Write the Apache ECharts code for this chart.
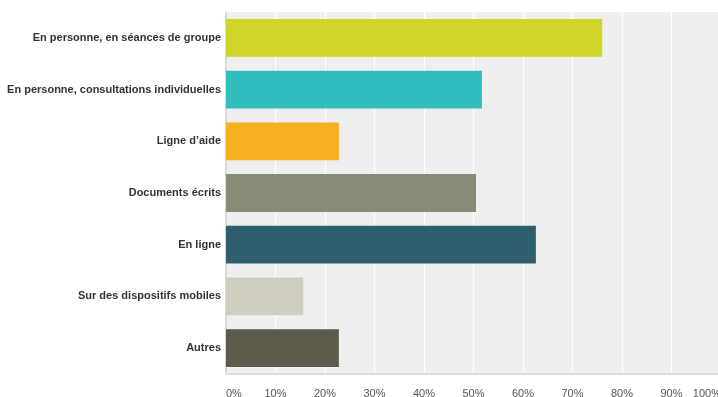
<!DOCTYPE html>
<html>
<head>
<meta charset="utf-8">
<script src="https://cdn.jsdelivr.net/npm/echarts@6/dist/echarts.min.js"></script>
<style>
  html, body { margin: 0; padding: 0; background: #fff; }
  #chart { width: 718px; height: 397px; }
</style>
</head>
<body>
<div id="chart"></div>
<script>
// Response categories, top to bottom
const categories = [
  'En personne, en séances de groupe',
  'En personne, consultations individuelles',
  'Ligne d\u2019aide',
  'Documents écrits',
  'En ligne',
  'Sur des dispositifs mobiles',
  'Autres'
];
// Share of respondents (%)
const values = [76.0, 51.7, 22.8, 50.5, 62.6, 15.6, 22.8];
const barColors = ['#d0d52a', '#33bdbf', '#f7b01f', '#8a8a79', '#2f5f6d', '#cfcdc0', '#5d5b4b'];
const xTicks = [0, 10, 20, 30, 40, 50, 60, 70, 80, 90, 100];

const chart = echarts.init(document.getElementById('chart'), null, { renderer: 'canvas' });
chart.setOption({
  animation: false,
  grid: {
    left: 226, top: 12, width: 495, height: 362,
    show: true, backgroundColor: '#efefef', borderWidth: 0,
    outerBoundsMode: 'none',
    containLabel: false
  },
  xAxis: {
    type: 'value',
    min: xTicks[0], max: xTicks[xTicks.length - 1], interval: 10,
    axisLine: { show: false },
    axisTick: { show: false },
    splitLine: { show: true, lineStyle: { color: '#ffffff', width: 1.2 } },
    axisLabel: {
      formatter: '{value}%',
      color: '#555555',
      fontFamily: 'Liberation Sans, Arial, sans-serif',
      fontSize: 11,
      margin: 14,
      alignMinLabel: 'left',
      alignMaxLabel: 'right'
    }
  },
  yAxis: {
    type: 'category',
    data: categories,
    inverse: true,
    axisLine: { show: true, lineStyle: { color: '#cccccc', width: 1.5 } },
    axisTick: { show: false },
    axisLabel: {
      color: '#333333',
      fontWeight: 'bold',
      fontFamily: 'Liberation Sans, Arial, sans-serif',
      fontSize: 11,
      margin: 5
    }
  },
  series: [
    {
      type: 'bar',
      data: values.map((v, i) => ({ value: v, itemStyle: { color: barColors[i] } })),
      barCategoryGap: '27%',
      silent: true
    },
    {
      // bottom baseline of the plot
      type: 'line',
      data: [],
      markLine: {
        silent: true,
        symbol: 'none',
        label: { show: false },
        lineStyle: { color: '#dddddd', width: 2, type: 'solid' },
        data: [[{ xAxis: 0, yAxis: categories[categories.length - 1], y: 374 }, { xAxis: 100, y: 374 }]]
      }
    }
  ]
});
</script>
</body>
</html>
